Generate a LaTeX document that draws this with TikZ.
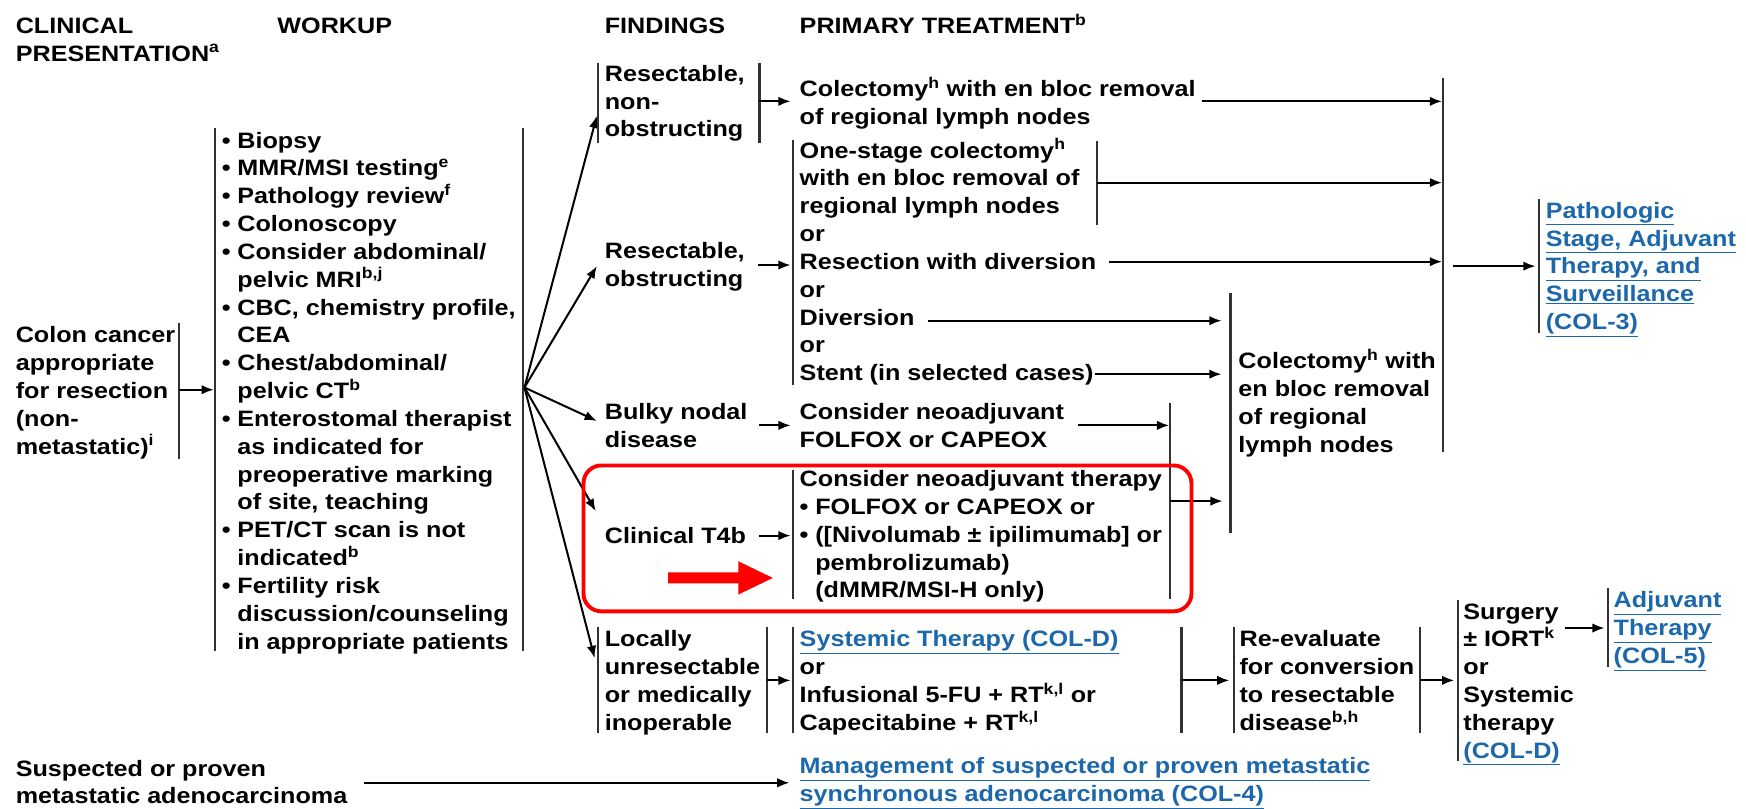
\documentclass[tikz,border=0pt]{standalone}
\usepackage{fontspec}
\setmainfont{Liberation Sans}[FakeStretch=1.13]
\usetikzlibrary{arrows.meta}
\definecolor{linkblue}{RGB}{28,104,170}
\definecolor{barc}{RGB}{50,50,50}
\definecolor{hred}{RGB}{255,0,0}
\newcommand\ml[1]{\vtop{\baselineskip=25pt\lineskiplimit=-100pt\lineskip=0pt\halign{##\hfil\cr#1\crcr}}}
\newcommand\sps[1]{\textsuperscript{#1}}
\newcommand\lnk[1]{\textcolor{linkblue}{\underline{#1}}}
\newcommand\bul{\makebox[14pt][l]{•}}
\newcommand\ind{\hspace*{14pt}}
\begin{document}
\begin{tikzpicture}[x=1pt,y=-1pt,
  txt/.style={anchor=base west, inner sep=0pt, font=\fontsize{20}{25}\selectfont\bfseries},
  bar/.style={draw=barc, line width=2pt},
  arr/.style={line width=1.8pt, -{Latex[length=11pt,width=8.5pt]}}]
\useasboundingbox[fill=white] (0,0) rectangle (1568,726);

% headings
\node[txt] (h1) at (14,30) {\ml{CLINICAL\cr PRESENTATION\sps{a}}};
\node[txt] (h2) at (249,30) {WORKUP};
\node[txt] (h3) at (543,30) {FINDINGS};
\node[txt] (h4) at (718,30) {PRIMARY TREATMENT\sps{b}};

% clinical presentation
\node[txt] (colon) at (14,308) {\ml{Colon cancer\cr appropriate\cr for resection\cr (non-\cr metastatic)\sps{i}}};
\draw[bar] (161,290) -- (161,412);
\coordinate (colonR) at (161,350);
\coordinate (wkL) at (192,350);
\draw[arr] (colonR) -- (wkL);

% workup
\node[txt] (workup) at (199,133) {\ml{\bul Biopsy\cr
\bul MMR/MSI testing\sps{e}\cr
\bul Pathology review\sps{f}\cr
\bul Colonoscopy\cr
\bul Consider abdominal/\cr
\ind pelvic MRI\sps{b,j}\cr
\bul CBC, chemistry profile,\cr
\ind CEA\cr
\bul Chest/abdominal/\cr
\ind pelvic CT\sps{b}\cr
\bul Enterostomal therapist\cr
\ind as indicated for\cr
\ind preoperative marking\cr
\ind of site, teaching\cr
\bul PET/CT scan is not\cr
\ind indicated\sps{b}\cr
\bul Fertility risk\cr
\ind discussion/counseling\cr
\ind in appropriate patients}};
\draw[bar] (193,115) -- (193,585);
\draw[bar] (470,115) -- (470,585);

% fan
\coordinate (fan) at (471,348);
\coordinate (t1) at (536,104);
\coordinate (t2) at (536,239);
\coordinate (t3) at (536,378);
\coordinate (t4) at (535,459);
\coordinate (t5) at (534,591);
\foreach \t in {t1,t2,t3,t4,t5} \draw[arr] (fan) -- (\t);

% findings 1
\node[txt] (f1) at (543,73) {\ml{Resectable,\cr non-\cr obstructing}};
\draw[bar] (537,57) -- (537,128);
\draw[bar] (682,57) -- (682,128);
\node[txt] (p1) at (718,87) {\ml{Colectomy\sps{h} with en bloc removal\cr of regional lymph nodes}};
\coordinate (f1R) at (682,91); \coordinate (p1L) at (710,91);
\draw[arr] (f1R) -- (p1L);
\coordinate (p1R) at (1079,91); \coordinate (big1) at (1295,91);
\draw[arr] (p1R) -- (big1);

% findings 2
\node[txt] (f2) at (543,232) {\ml{Resectable,\cr obstructing}};
\coordinate (f2R) at (681,238); \coordinate (p2L) at (710,238);
\draw[arr] (f2R) -- (p2L);
\draw[bar] (712,126) -- (712,346);
\node[txt] (p2) at (718,142) {\ml{One-stage colectomy\sps{h}\cr with en bloc removal of\cr regional lymph nodes\cr or\cr Resection with diversion\cr or\cr Diversion\cr or\cr Stent (in selected cases)}};
\draw[bar] (985,127) -- (985,202);
\coordinate (os) at (985,164); \coordinate (big2) at (1295,164);
\draw[arr] (os) -- (big2);
\coordinate (rd) at (996,235); \coordinate (big3) at (1295,235);
\draw[arr] (rd) -- (big3);
\coordinate (dv) at (833,288); \coordinate (col1) at (1097,288);
\draw[arr] (dv) -- (col1);
\coordinate (st) at (983,336); \coordinate (col2) at (1097,336);
\draw[arr] (st) -- (col2);

% findings 3
\node[txt] (f3) at (543,377) {\ml{Bulky nodal\cr disease}};
\coordinate (f3R) at (682,382); \coordinate (p3L) at (710,382);
\draw[arr] (f3R) -- (p3L);
\node[txt] (p3) at (718,377) {\ml{Consider neoadjuvant\cr FOLFOX or CAPEOX}};
\coordinate (p3R) at (968,382); \coordinate (nb1) at (1050,382);
\draw[arr] (p3R) -- (nb1);
\draw[bar] (1051,362) -- (1051,538);

% findings 4
\node[txt] (f4) at (543,488) {Clinical T4b};
\coordinate (f4R) at (682,481); \coordinate (p4L) at (710,481);
\draw[arr] (f4R) -- (p4L);
\draw[bar] (712,422) -- (712,538);
\node[txt] (p4) at (718,437) {\ml{Consider neoadjuvant therapy\cr
\bul FOLFOX or CAPEOX or\cr
\bul ([Nivolumab ± ipilimumab] or\cr
\ind pembrolizumab)\cr
\ind (dMMR/MSI-H only)}};
\coordinate (nbR) at (1051,450); \coordinate (col3) at (1098,450);
\draw[arr] (nbR) -- (col3);

% colectomy (right)
\draw[bar] (1105,263) -- (1105,479);
\node[txt] (col) at (1112,331) {\ml{Colectomy\sps{h} with\cr en bloc removal\cr of regional\cr lymph nodes}};

% big bar and pathologic
\draw[bar] (1296,70) -- (1296,406);
\coordinate (bigR) at (1305,239); \coordinate (pathL) at (1379,239);
\draw[arr] (bigR) -- (pathL);
\draw[bar] (1382,179) -- (1382,299);
\node[txt] (path) at (1388,196) {\ml{\lnk{Pathologic}\cr \lnk{Stage, Adjuvant}\cr \lnk{Therapy, and}\cr \lnk{Surveillance}\cr \lnk{(COL-3)}}};

% highlight
\draw[hred, line width=3.5pt, rounded corners=16pt] (524,418) rectangle (1070,549);
\fill[hred] (600,514) -- (663,514) -- (663,504) -- (694,519) -- (663,534) -- (663,524) -- (600,524) -- cycle;

% findings 5
\node[txt] (f5) at (543,581) {\ml{Locally\cr unresectable\cr or medically\cr inoperable}};
\draw[bar] (537,563) -- (537,658);
\draw[bar] (689,563) -- (689,658);
\coordinate (f5R) at (689,611); \coordinate (p5L) at (710,611);
\draw[arr] (f5R) -- (p5L);
\draw[bar] (712,563) -- (712,658);
\node[txt] (p5) at (718,581) {\ml{\lnk{Systemic Therapy (COL-D)}\cr or\cr Infusional 5-FU + RT\sps{k,l} or\cr Capecitabine + RT\sps{k,l}}};
\draw[bar] (1061,563) -- (1061,658);
\coordinate (p5R) at (1061,611); \coordinate (reL) at (1104,611);
\draw[arr] (p5R) -- (reL);
\draw[bar] (1108,563) -- (1108,658);
\node[txt] (reev) at (1113,581) {\ml{Re-evaluate\cr for conversion\cr to resectable\cr disease\sps{b,h}}};
\draw[bar] (1275,563) -- (1275,658);
\coordinate (reR) at (1275,611); \coordinate (sgL) at (1306,611);
\draw[arr] (reR) -- (sgL);
\draw[bar] (1309,539) -- (1309,683);
\node[txt] (surg) at (1314,556) {\ml{Surgery\cr ± IORT\sps{k}\cr or\cr Systemic\cr therapy\cr \lnk{(COL-D)}}};
\coordinate (sgR) at (1405,564); \coordinate (adL) at (1441,564);
\draw[arr] (sgR) -- (adL);
\draw[bar] (1444,528) -- (1444,599);
\node[txt] (adj) at (1449,546) {\ml{\lnk{Adjuvant}\cr \lnk{Therapy}\cr \lnk{(COL-5)}}};

% metastatic
\node[txt] (susp) at (14,697) {\ml{Suspected or proven\cr metastatic adenocarcinoma}};
\coordinate (suR) at (327,703); \coordinate (mgL) at (709,703);
\draw[arr] (suR) -- (mgL);
\node[txt] (mgmt) at (718,695) {\ml{\lnk{Management of suspected or proven metastatic}\cr \lnk{synchronous adenocarcinoma (COL-4)}}};
\end{tikzpicture}
\end{document}
